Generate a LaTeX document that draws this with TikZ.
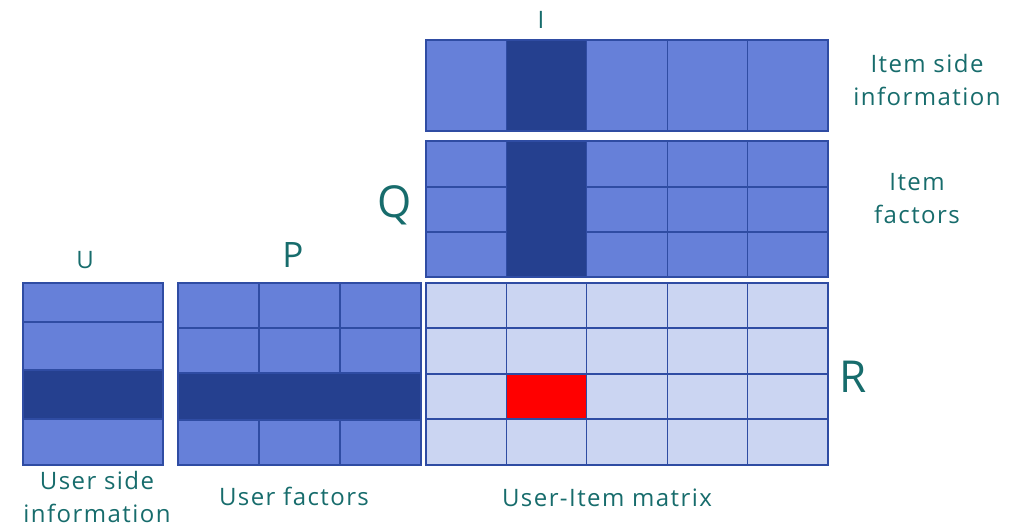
\documentclass[tikz,border=0pt]{standalone}
\usepackage{fontspec}
\setmainfont[LetterSpace=6]{Open Sans}
\definecolor{midblue}{HTML}{6680D9}
\definecolor{deepblue}{HTML}{25408F}
\definecolor{paleblue}{HTML}{CBD5F2}
\definecolor{gridline}{HTML}{2F4CA3}
\definecolor{labelteal}{HTML}{176C6C}
\begin{document}
\begin{tikzpicture}[x=1pt, y=-1pt,
    cell/.style={draw=gridline, line width=1.2pt},
    lbl/.style={text=labelteal, font=\fontsize{24}{33}\selectfont, align=center, inner sep=0pt},
    biglbl/.style={lbl, font=\fontsize{44}{50}\selectfont}]
  \useasboundingbox (0,0) rectangle (1025,527);
  % item side information
  \foreach \c in {0,...,4}
    \draw[cell, fill=midblue] ({426+80.4*\c},40) rectangle ++(80.4,91);
  \draw[cell, fill=deepblue] (506.4,40) rectangle ++(80.4,91);
  % item factors Q
  \foreach \c in {0,...,4}
    \foreach \r/\h in {141/46,187/45,232/45}
      \draw[cell, fill=midblue] ({426+80.4*\c},\r) rectangle ++(80.4,\h);
  \draw[cell, fill=deepblue] (506.4,141) rectangle ++(80.4,136);
  % user-item matrix R
  \foreach \c in {0,...,4}
    \foreach \r/\h in {283/45,328/46,374/45,419/46}
      \draw[cell, fill=paleblue] ({426+80.4*\c},\r) rectangle ++(80.4,\h);
  \draw[cell, fill=red] (506.4,374) rectangle ++(80.4,45);
  % user side information U
  \foreach \ya/\yb in {283/322,322/370,370/419,419/465}
    \draw[cell, fill=midblue] (23,\ya) rectangle (163,\yb);
  \draw[cell, fill=deepblue] (23,370) rectangle (163,419);
  % user factors P
  \foreach \c in {0,...,2}
    \foreach \ya/\yb in {283/328,328/373,373/420,420/465}
      \draw[cell, fill=midblue] ({178+81*\c},\ya) rectangle ++(81,{\yb-\ya});
  \draw[cell, fill=deepblue] (178,373) rectangle (421,420);
  % labels
  \node[lbl] (Ilbl) at (541,20) {I};
  \node[lbl] (Ulbl) at (85,260) {U};
  \node[lbl, font=\fontsize{35}{40}\selectfont] (Plbl) at (293,255) {P};
  \node[biglbl] (Qlbl) at (395,205) {Q};
  \node[biglbl] (Rlbl) at (853,377) {R};
  \node[lbl] (itemside) at (927,80) {Item side\\information};
  \node[lbl] (itemfac) at (917,199) {Item\\factors};
  \node[lbl] (userside) at (97,497) {User side\\information};
  \node[lbl] (userfac) at (294,496) {User factors};
  \node[lbl] (uimat) at (607,498) {User-Item matrix};
\end{tikzpicture}
\end{document}
